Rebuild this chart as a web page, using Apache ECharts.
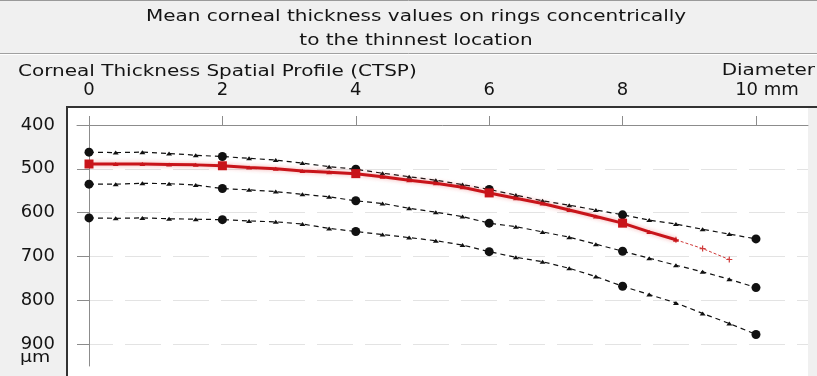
<!DOCTYPE html>
<html>
<head>
<meta charset="utf-8">
<script src="https://cdn.jsdelivr.net/npm/echarts@6/dist/echarts.min.js"></script>
<style>
  html, body { margin: 0; padding: 0; background: #f0f0f0; }
  #chart { width: 817px; height: 376px; }
</style>
</head>
<body>
<div id="chart"></div>
<script>
// Ring diameters (mm) at which thickness was sampled
const ringDiameters = [0, 0.4, 0.8, 1.2, 1.6, 2.0, 2.4, 2.8, 3.2, 3.6, 4.0, 4.4, 4.8, 5.2, 5.6,
  6.0, 6.4, 6.8, 7.2, 7.6, 8.0, 8.4, 8.8, 9.2, 9.6, 10.0];

// Normative reference curves (µm)
const upperBand = [462, 463, 462, 465, 469, 472, 476, 480, 487, 495, 501, 510, 518, 526, 536,
  547, 560, 573, 583, 594, 605, 617, 626, 638, 649, 660];
const middleBand = [535, 535, 533, 534, 537, 545, 548, 552, 558, 564, 573, 579, 590, 599, 609,
  624, 632, 644, 656, 672, 688, 704, 720, 735, 752, 771];
const lowerBand = [612, 613, 612, 614, 615, 616, 619, 621, 626, 636, 643, 650, 657, 664, 674,
  689, 702, 712, 727, 746, 768, 787, 806, 830, 853, 878];

// Measured profile (µm): solid part up to 8.8 mm, extrapolated tail beyond
const profileDiameters = [0, 0.4, 0.8, 1.2, 1.6, 2.0, 2.4, 2.8, 3.2, 3.6, 4.0, 4.4, 4.8, 5.2, 5.6,
  6.0, 6.4, 6.8, 7.2, 7.6, 8.0, 8.4, 8.8];
const profileValues = [489, 489, 489, 490, 491, 493, 497, 500, 505, 508, 511, 518, 526, 533, 542,
  555, 567, 579, 594, 609, 624, 644, 662];
const tailDiameters = [8.8, 9.2, 9.6];
const tailValues = [662, 682, 707];

// Axis ticks
const xTicks = [0, 2, 4, 6, 8, 10];
const yTicks = [400, 500, 600, 700, 800, 900];

const FONT = 'DejaVu Sans';
const INK = '#141414';
const isMajor = d => Math.abs(d % 2) < 1e-9;

function bandData(values) {
  return ringDiameters.map((d, i) => ({
    value: [d, values[i]],
    symbol: isMajor(d) ? 'circle' : 'triangle',
    symbolSize: isMajor(d) ? 9 : [6, 4]
  }));
}

function bandSeries(name, values) {
  return {
    name, type: 'line', data: bandData(values), z: 3,
    lineStyle: { color: '#111', width: 1.2, type: [5, 4] },
    itemStyle: { color: '#111' },
    showSymbol: true
  };
}

const profileData = profileDiameters.map((d, i) => ({
  value: [d, profileValues[i]],
  symbol: isMajor(d) ? 'rect' : 'triangle',
  symbolSize: isMajor(d) ? 9 : [6, 4]
}));

// wide bitmap-style lettering for the headings
function heading(text, x, y, align, size) {
  return {
    type: 'text', x, y, scaleX: 1.25,
    style: { text, font: (size || 16) + 'px "DejaVu Sans"', fill: INK,
      textAlign: align, textVerticalAlign: 'middle' }
  };
}

const chart = echarts.init(document.getElementById('chart'));
chart.setOption({
  backgroundColor: '#f0f0f0',
  animation: false,
  textStyle: { fontFamily: FONT },
  grid: { left: 77, right: 9, top: 125, bottom: 10, containLabel: false },
  xAxis: {
    type: 'value', position: 'top', min: -0.18, max: 10.78,
    axisLine: { onZero: false, lineStyle: { color: '#8c8c8c', width: 1 } },
    axisTick: { customValues: xTicks, length: 9, lineStyle: { color: '#8c8c8c' } },
    axisLabel: {
      customValues: xTicks, margin: 26, fontSize: 18, color: INK, fontFamily: FONT,
      formatter: v => (v === 10 ? '{u|10 mm}' : String(v)),
      rich: { u: { fontSize: 18, color: INK, fontFamily: FONT, padding: [0, 0, 0, 22] } }
    },
    splitLine: { show: false }
  },
  yAxis: {
    type: 'value', inverse: true, min: 400, max: 950,
    axisLine: { show: true, onZero: true, lineStyle: { color: '#8c8c8c', width: 1 } },
    axisTick: { customValues: yTicks, length: 12, lineStyle: { color: '#8c8c8c' } },
    axisLabel: { customValues: yTicks, margin: 22, fontSize: 18, color: INK, fontFamily: FONT },
    splitLine: { show: true, lineStyle: { color: '#e3e3e3', width: 1, type: [36, 12] } }
  },
  graphic: [
    // panel backgrounds and frame
    { type: 'rect', z: -10, shape: { x: 67, y: 107, width: 741, height: 269 }, style: { fill: '#ffffff' } },
    { type: 'line', z: -5, shape: { x1: 0, y1: 0.5, x2: 817, y2: 0.5 }, style: { stroke: '#9a9a9a', lineWidth: 1 } },
    { type: 'line', z: -5, shape: { x1: 0, y1: 53.5, x2: 817, y2: 53.5 }, style: { stroke: '#a0a0a0', lineWidth: 1 } },
    { type: 'line', z: -5, shape: { x1: 0, y1: 54.5, x2: 817, y2: 54.5 }, style: { stroke: '#ffffff', lineWidth: 1 } },
    { type: 'line', z: 10, shape: { x1: 66, y1: 107, x2: 817, y2: 107 }, style: { stroke: '#333333', lineWidth: 2 } },
    { type: 'line', z: 10, shape: { x1: 67, y1: 106, x2: 67, y2: 376 }, style: { stroke: '#333333', lineWidth: 2 } },
    // headings
    heading('Mean corneal thickness values on rings concentrically', 416, 17, 'center'),
    heading('to the thinnest location', 416, 41, 'center'),
    heading('Corneal Thickness Spatial Profile (CTSP)', 18, 72, 'left'),
    heading('Diameter', 815, 71, 'right'),
    heading('µm', 20, 358, 'left', 15)
  ],
  series: [
    bandSeries('upper', upperBand),
    bandSeries('middle', middleBand),
    bandSeries('lower', lowerBand),
    {
      name: 'CTSP', type: 'line', data: profileData, z: 5,
      lineStyle: { color: '#c8141a', width: 3, shadowBlur: 4, shadowColor: 'rgba(230,60,60,0.45)' },
      itemStyle: { color: '#c8141a' }
    },
    {
      name: 'CTSP tail', type: 'line', z: 4,
      data: tailDiameters.map((d, i) => [d, tailValues[i]]),
      symbol: 'path://M2,0H3V2H5V3H3V5H2V3H0V2H2Z', symbolSize: 6,
      lineStyle: { color: '#d03a3a', width: 1, type: [3, 2] },
      itemStyle: { color: '#d03a3a' }
    }
  ]
});
</script>
</body>
</html>
